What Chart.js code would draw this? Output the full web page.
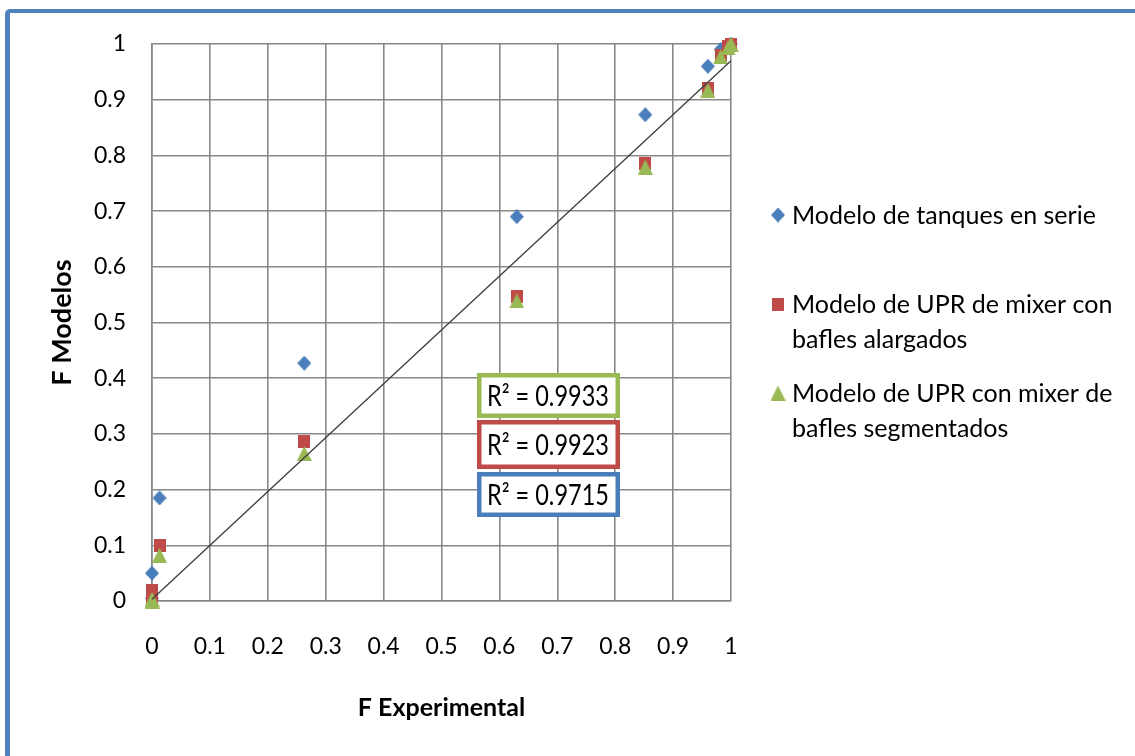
<!DOCTYPE html>
<html>
<head>
<meta charset="utf-8">
<script src="https://cdn.jsdelivr.net/npm/chart.js@4.4.1/dist/chart.umd.min.js"></script>
<style>
  html, body { margin: 0; padding: 0; background: #fff; overflow: hidden; }
  #wrap { position: relative; width: 1135px; height: 756px; }
  #frame {
    position: absolute; left: 5px; top: 9px; width: 1200px; height: 800px;
    border-top: 4px solid #4F81BD; border-left: 5px solid #4F81BD;
    border-top-left-radius: 5px; pointer-events: none;
  }
</style>
</head>
<body>
<div id="wrap">
  <canvas id="myChart"></canvas>
  <div id="frame"></div>
</div>
<script>
// F Experimental (shared x values)
const xExperimental = [0, 0, 0.013, 0.263, 0.63, 0.852, 0.96, 0.982, 0.995, 1];
// F Modelos
const yTanques = [0.005, 0.05, 0.185, 0.427, 0.69, 0.873, 0.96, 0.99, 0.998, 1];
const yUprAlargados = [0.003, 0.018, 0.1, 0.287, 0.546, 0.786, 0.921, 0.98, 0.996, 1];
const yUprSegmentados = [0, 0.003, 0.082, 0.265, 0.539, 0.779, 0.917, 0.977, 0.993, 1];
// diagonal reference line
const lineX = [0, 1];
const lineY = [0.003, 0.97];

const tickLabels = ['0', '0.1', '0.2', '0.3', '0.4', '0.5', '0.6', '0.7', '0.8', '0.9', '1'];
const legendLines = [
    ['Modelo de tanques en serie'],
    ['Modelo de UPR de mixer con', 'bafles alargados'],
    ['Modelo de UPR con mixer de', 'bafles segmentados']
];
const r2Labels = ['R\u00B2 = 0.9933', 'R\u00B2 = 0.9923', 'R\u00B2 = 0.9715'];

const BLUE = '#4A7EBB';
const RED = '#BE4B48';
const GREEN = '#98B954';
const GRID = '#888888';
const FONT = 'Lato';

function makeMarker(kind, color) {
    const c = document.createElement('canvas');
    const g = c.getContext('2d');
    if (kind === 'diamond') {
        c.width = 14; c.height = 15;
        g.beginPath();
        g.moveTo(7, 0); g.lineTo(14, 7.5); g.lineTo(7, 15); g.lineTo(0, 7.5);
    } else if (kind === 'square') {
        c.width = 12; c.height = 13;
        g.beginPath();
        g.rect(0, 0, 12, 13);
    } else {
        c.width = 15; c.height = 15;
        g.beginPath();
        g.moveTo(7.5, 0); g.lineTo(15, 15); g.lineTo(0, 15);
    }
    g.closePath();
    g.fillStyle = color;
    g.fill();
    return c;
}

const markers = [
    makeMarker('diamond', BLUE),
    makeMarker('square', RED),
    makeMarker('triangle', GREEN)
];

// legend and R² boxes drawn on the canvas
const extrasPlugin = {
    id: 'extras',
    afterDraw(chart) {
        const ctx = chart.ctx;
        ctx.save();

        // legend
        const legendTop = [215, 304, 393];
        const markerX = [778, 777.5, 778];
        const lineGap = 35;
        ctx.font = `25px ${FONT}`;
        ctx.fillStyle = '#000';
        ctx.textBaseline = 'middle';
        ctx.textAlign = 'left';
        legendLines.forEach((lines, i) => {
            const m = markers[i];
            ctx.drawImage(m, markerX[i] - m.width / 2, legendTop[i] - m.height / 2);
            lines.forEach((t, j) => {
                ctx.fillText(t, 792, legendTop[i] + j * lineGap + 1);
            });
        });

        // R² boxes
        const boxColors = [GREEN, RED, BLUE];
        const boxTop = [373, 420, 472];
        const boxH = [45, 49, 45];
        const bw = 4.5;
        r2Labels.forEach((t, i) => {
            const x0 = 477, y0 = boxTop[i], w = 143, h = boxH[i];
            ctx.fillStyle = '#fff';
            ctx.fillRect(x0, y0, w, h);
            ctx.strokeStyle = boxColors[i];
            ctx.lineWidth = bw;
            ctx.strokeRect(x0 + bw / 2, y0 + bw / 2, w - bw, h - bw);
            ctx.save();
            ctx.translate(487, y0 + h / 2 + 1);
            ctx.scale(1, 1.2);
            ctx.fillStyle = '#000';
            ctx.font = `23.5px ${FONT}`;
            ctx.textBaseline = 'middle';
            ctx.fillText(t, 0, 0);
            ctx.restore();
        });

        ctx.restore();
    }
};

function setupChart() {
    const ctx = document.getElementById('myChart').getContext('2d');
    new Chart(ctx, {
        type: 'scatter',
        data: {
            datasets: [
                {
                    label: 'trend',
                    type: 'line',
                    data: lineX.map((x, i) => ({ x: x, y: lineY[i] })),
                    borderColor: '#3C3C3C',
                    borderWidth: 1.3,
                    pointRadius: 0,
                    clip: false,
                    order: -1
                },
                {
                    label: legendLines[0].join(' '),
                    data: xExperimental.map((x, i) => ({ x: x, y: yTanques[i] })),
                    pointStyle: markers[0],
                    clip: false,
                    order: 3
                },
                {
                    label: legendLines[1].join(' '),
                    data: xExperimental.map((x, i) => ({ x: x, y: yUprAlargados[i] })),
                    pointStyle: markers[1],
                    clip: false,
                    order: 2
                },
                {
                    label: legendLines[2].join(' '),
                    data: xExperimental.map((x, i) => ({ x: x, y: yUprSegmentados[i] })),
                    pointStyle: markers[2],
                    clip: false,
                    order: 1
                }
            ]
        },
        options: {
            responsive: true,
            maintainAspectRatio: false,
            animation: false,
            events: [],
            layout: { padding: { left: 0, top: 44, right: 404, bottom: 0 } },
            plugins: {
                legend: { display: false },
                tooltip: { enabled: false }
            },
            scales: {
                x: {
                    type: 'linear',
                    min: 0,
                    max: 1,
                    ticks: {
                        stepSize: 0.1,
                        padding: 32,
                        color: '#000',
                        font: { family: FONT, size: 23 },
                        maxRotation: 0,
                        callback: (v, i) => tickLabels[i]
                    },
                    grid: { color: GRID, lineWidth: 1.6, drawTicks: false },
                    border: { color: GRID, width: 1.6 },
                    title: {
                        display: true,
                        text: 'F Experimental',
                        color: '#000',
                        font: { family: FONT, size: 25, weight: 'bold' },
                        padding: { top: 0, bottom: 33 }
                    },
                    afterFit: (s) => { s.height = 155; }
                },
                y: {
                    type: 'linear',
                    min: 0,
                    max: 1,
                    ticks: {
                        stepSize: 0.1,
                        padding: 26,
                        color: '#000',
                        font: { family: FONT, size: 23 },
                        callback: (v, i) => tickLabels[i]
                    },
                    grid: { color: GRID, lineWidth: 1.6, drawTicks: false },
                    border: { color: GRID, width: 1.6 },
                    title: {
                        display: true,
                        text: 'F Modelos',
                        color: '#000',
                        font: { family: FONT, size: 27, weight: 'bold' },
                        padding: { top: 46, bottom: 0 }
                    },
                    afterFit: (s) => { s.width = 152; }
                }
            }
        },
        plugins: [extrasPlugin]
    });
}

document.fonts.load(`23px ${FONT}`).then(() => document.fonts.load(`bold 25px ${FONT}`)).then(setupChart, setupChart);
</script>
</body>
</html>
